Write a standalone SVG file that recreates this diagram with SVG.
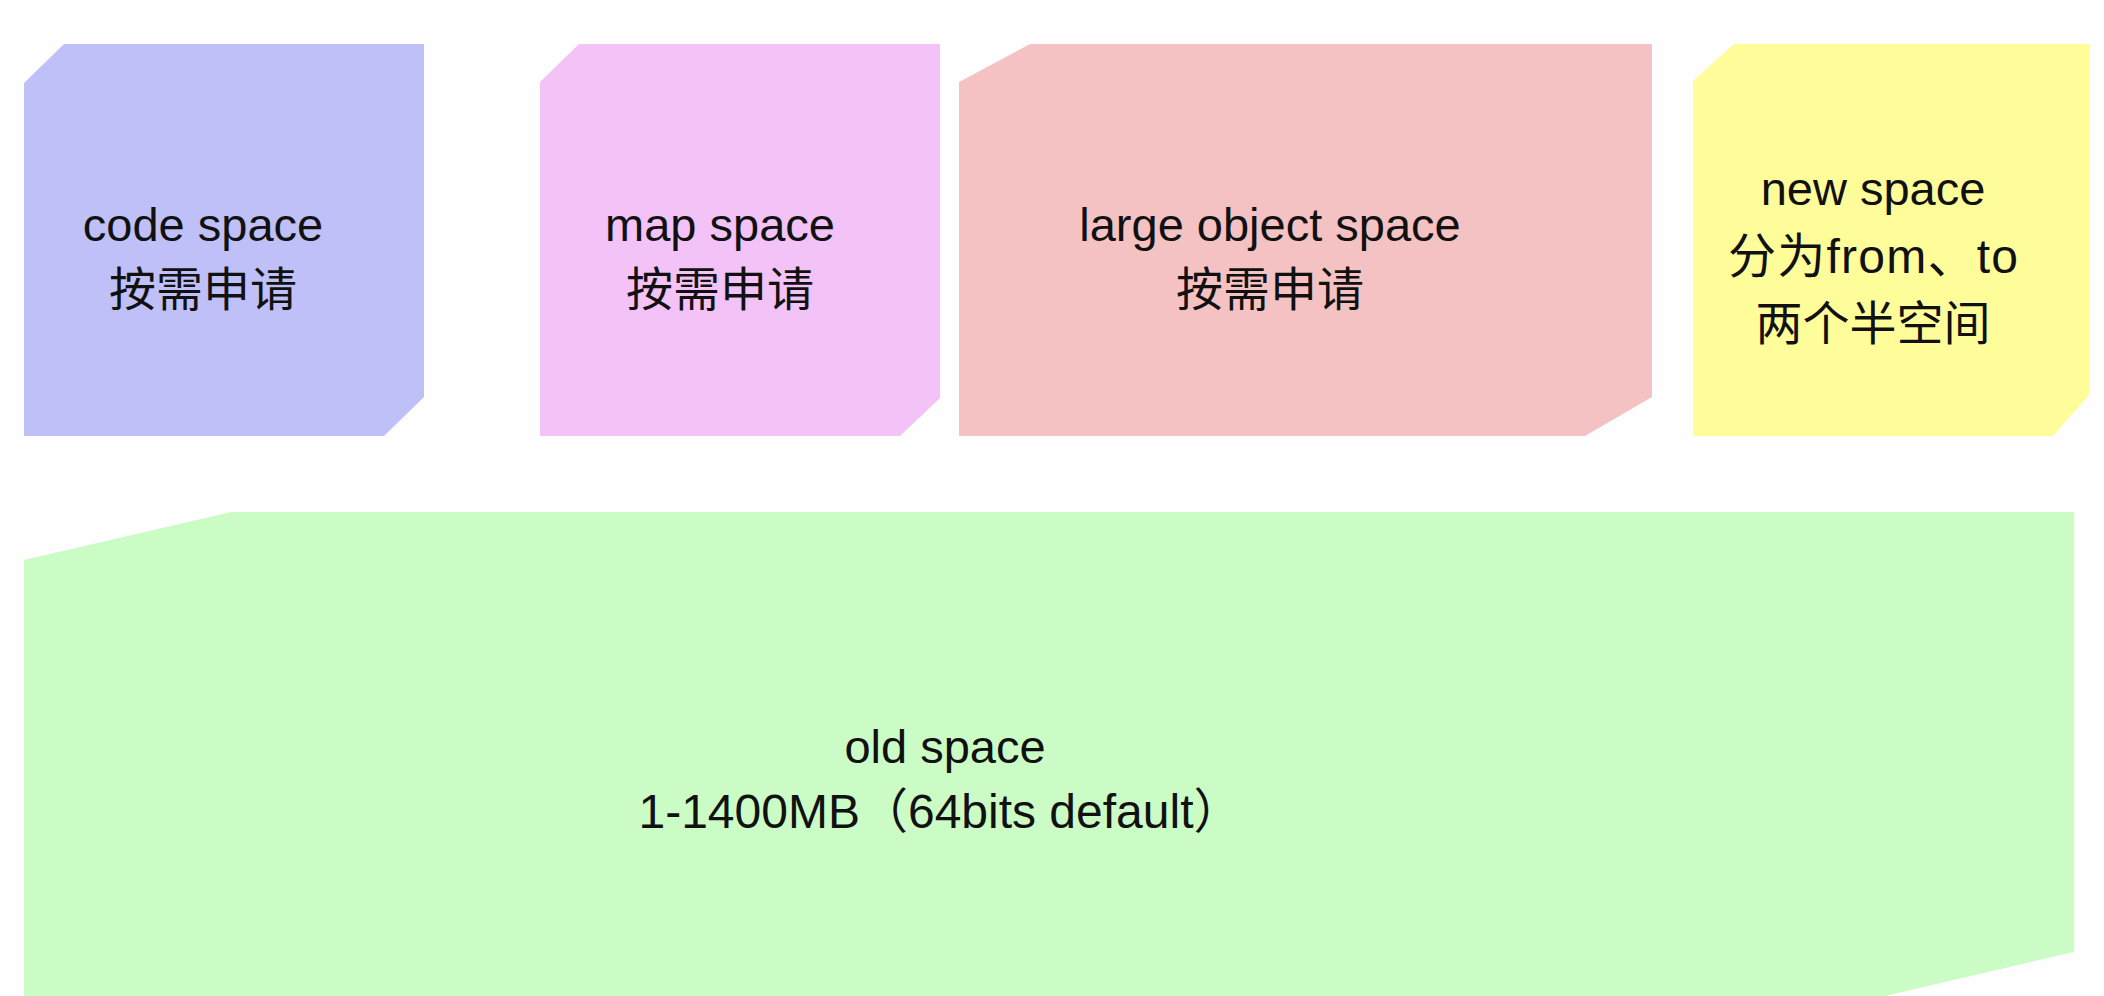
<svg xmlns="http://www.w3.org/2000/svg" width="2104" height="996" viewBox="0 0 2104 996">
<style>
  .lbl { font-family: "Liberation Sans", "Noto Sans CJK SC", sans-serif; font-size: 47px; fill: #111111; text-anchor: middle; }
</style>
<rect x="0" y="0" width="2104" height="996" fill="#FEFEFE"/>
<g id="code-space">
  <polygon points="64,44 424,44 424,397 384,436 24,436 24,83" fill="#C0C0F8"/>
  <text class="lbl" x="203" y="241">code space</text>
  <text class="lbl" x="203" y="306">按需申请</text>
</g>
<g id="map-space">
  <polygon points="579,44 940,44 940,398 900,436 540,436 540,82" fill="#F3C2F7"/>
  <text class="lbl" x="720" y="241">map space</text>
  <text class="lbl" x="720" y="306">按需申请</text>
</g>
<g id="large-object-space">
  <polygon points="1030,44 1652,44 1652,397 1585,436 959,436 959,82" fill="#F4C2C2"/>
  <text class="lbl" x="1270" y="241">large object space</text>
  <text class="lbl" x="1270" y="306">按需申请</text>
</g>
<g id="new-space">
  <polygon points="1734,44 2090,44 2090,394 2053,436 1693,436 1693,81" fill="#FEFD99"/>
  <text class="lbl" x="1873" y="205">new space</text>
  <text class="lbl" x="1873" y="273" style="font-size:48px" textLength="290" lengthAdjust="spacing">分为from、to</text>
  <text class="lbl" x="1873" y="340">两个半空间</text>
</g>
<g id="old-space">
  <polygon points="231,512 2074,512 2074,952 1868,1000 24,1000 24,560" fill="#CCFCC6"/>
  <text class="lbl" x="945" y="763">old space</text>
  <text class="lbl" x="940" y="828" style="font-size:48px">1-1400MB（64bits default）</text>
</g>
<g id="connectors"/>
</svg>
